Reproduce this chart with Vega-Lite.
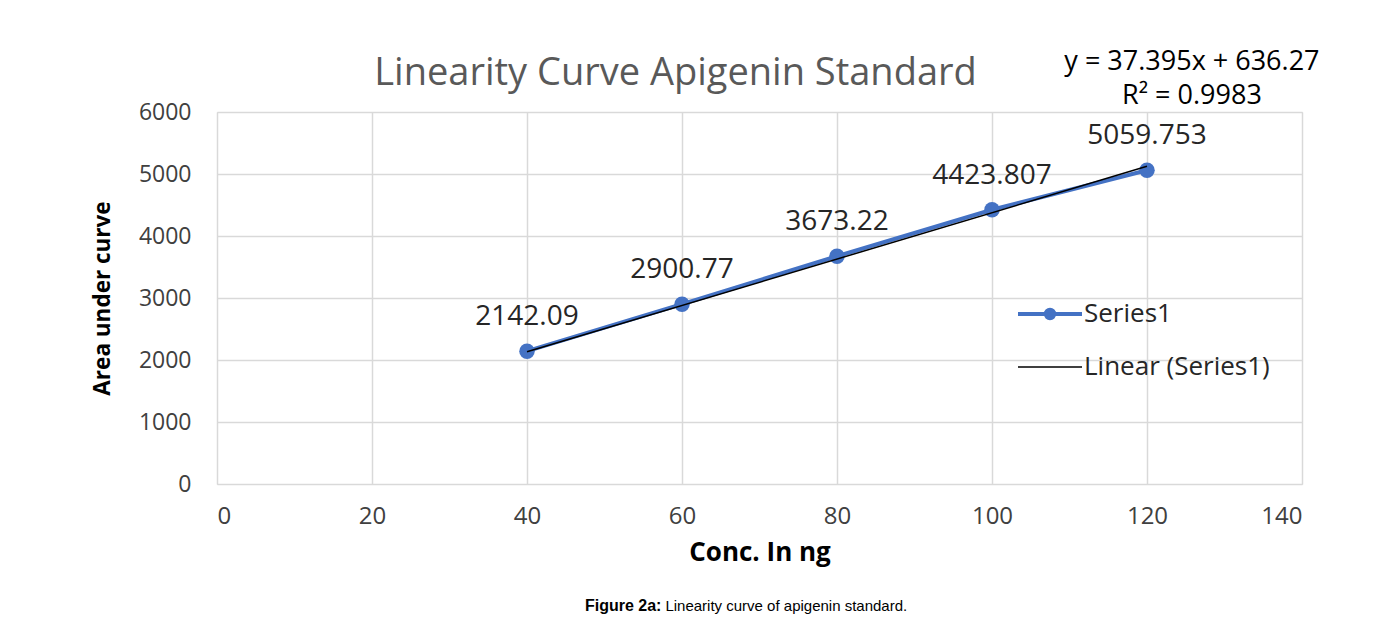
{
  "$schema": "https://vega.github.io/schema/vega-lite/v6.json",
  "autosize": "none",
  "width": 1085,
  "height": 372,
  "padding": {"left": 217, "top": 112, "right": 96, "bottom": 145},
  "background": "white",
  "title": {
    "text": "Linearity Curve Apigenin Standard",
    "fontSize": 38,
    "font": "Open Sans",
    "fontWeight": "normal",
    "color": "#595959",
    "anchor": "middle",
    "dx": -84,
    "dy": 59,
    "offset": 14
  },
  "datasets": {
    "series": [
      {"conc": 40, "area": 2142.09, "series": "Series1", "label": "2142.09"},
      {"conc": 60, "area": 2900.77, "series": "Series1", "label": "2900.77"},
      {"conc": 80, "area": 3673.22, "series": "Series1", "label": "3673.22"},
      {"conc": 100, "area": 4423.807, "series": "Series1", "label": "4423.807"},
      {"conc": 120, "area": 5059.753, "series": "Series1", "label": "5059.753"}
    ],
    "trend": [
      {"conc": 40, "area": 2132.07, "series": "Linear (Series1)"},
      {"conc": 120, "area": 5123.67, "series": "Linear (Series1)"}
    ],
    "equation": [
      {"conc": 125.8, "area": 6800, "text": "y = 37.395x + 636.27"},
      {"conc": 125.8, "area": 6255, "text": "R² = 0.9983"}
    ],
    "caption": [
      {"conc": 57.6, "area": -1975, "bold": "Figure 2a:", "rest": "Linearity curve of apigenin standard."}
    ]
  },
  "encoding": {
    "x": {
      "field": "conc",
      "type": "quantitative",
      "scale": {"domain": [0, 140], "nice": false},
      "axis": {
        "title": "Conc. In ng",
        "values": [0, 20, 40, 60, 80, 100, 120, 140],
        "labelFontSize": 24,
        "labelFont": "Open Sans",
        "labelColor": "#404040",
        "labelPadding": 20,
        "titleFont": "Open Sans",
        "titleFontSize": 26,
        "titleFontWeight": "bold",
        "titleColor": "#000000",
        "titlePadding": 11,
        "domain": false,
        "ticks": false,
        "grid": true,
        "gridColor": "#d9d9d9",
        "gridWidth": 1.5
      }
    },
    "y": {
      "field": "area",
      "type": "quantitative",
      "scale": {"domain": [0, 6000], "nice": false},
      "axis": {
        "title": "Area under curve",
        "format": "d",
        "values": [0, 1000, 2000, 3000, 4000, 5000, 6000],
        "labelFontSize": 23,
        "labelFont": "Open Sans",
        "labelColor": "#404040",
        "labelPadding": 26,
        "titleFont": "Open Sans",
        "titleFontSize": 22.5,
        "titleFontWeight": "bold",
        "titleColor": "#000000",
        "titlePadding": 24,
        "domain": false,
        "ticks": false,
        "grid": true,
        "gridColor": "#d9d9d9",
        "gridWidth": 1.5
      }
    }
  },
  "layer": [
    {
      "data": {"name": "series"},
      "mark": {"type": "line", "strokeWidth": 4},
      "encoding": {
        "color": {
          "field": "series",
          "type": "nominal",
          "scale": {"domain": ["Series1", "Linear (Series1)"], "range": ["#4472c4", "#000000"]},
          "legend": {
            "title": null,
            "orient": "none",
            "legendX": 820,
            "legendY": 189,
            "symbolType": "stroke",
            "symbolSize": 1600,
            "labelFont": "Open Sans",
            "labelFontSize": 26,
            "labelColor": "#262626",
            "labelOffset": 21,
            "labelLimit": 400,
            "rowPadding": 27,
            "encode": {
              "symbols": {
                "update": {
                  "shape": {"signal": "datum.value === 'Series1' ? 'M-1.6,0L1.6,0M0.21,0A0.21,0.21 0 1,1 -0.21,0A0.21,0.21 0 1,1 0.21,0Z' : 'M-1.6,0L1.6,0'"},
                  "fill": {"signal": "datum.value === 'Series1' ? '#4472c4' : 'transparent'"},
                  "strokeWidth": {"signal": "datum.value === 'Series1' ? 4 : 1.5"}
                }
              }
            }
          }
        }
      }
    },
    {
      "data": {"name": "series"},
      "mark": {"type": "point", "filled": true, "size": 240, "opacity": 1, "color": "#4472c4"}
    },
    {
      "data": {"name": "trend"},
      "mark": {"type": "line", "strokeWidth": 1.5},
      "encoding": {
        "color": {"field": "series", "type": "nominal"}
      }
    },
    {
      "data": {"name": "series"},
      "mark": {"type": "text", "font": "Open Sans", "fontSize": 28, "color": "#262626", "dy": -34},
      "encoding": {"text": {"field": "label"}}
    },
    {
      "data": {"name": "equation"},
      "mark": {"type": "text", "font": "Open Sans", "fontSize": 27, "color": "#000000"},
      "encoding": {"text": {"field": "text"}}
    },
    {
      "data": {"name": "caption"},
      "mark": {"type": "text", "font": "Liberation Sans", "fontSize": 16, "fontWeight": "bold", "color": "#000000", "align": "right", "dx": -2},
      "encoding": {"text": {"field": "bold"}}
    },
    {
      "data": {"name": "caption"},
      "mark": {"type": "text", "font": "Liberation Sans", "fontSize": 15, "color": "#000000", "align": "left", "dx": 2},
      "encoding": {"text": {"field": "rest"}}
    }
  ]
}
